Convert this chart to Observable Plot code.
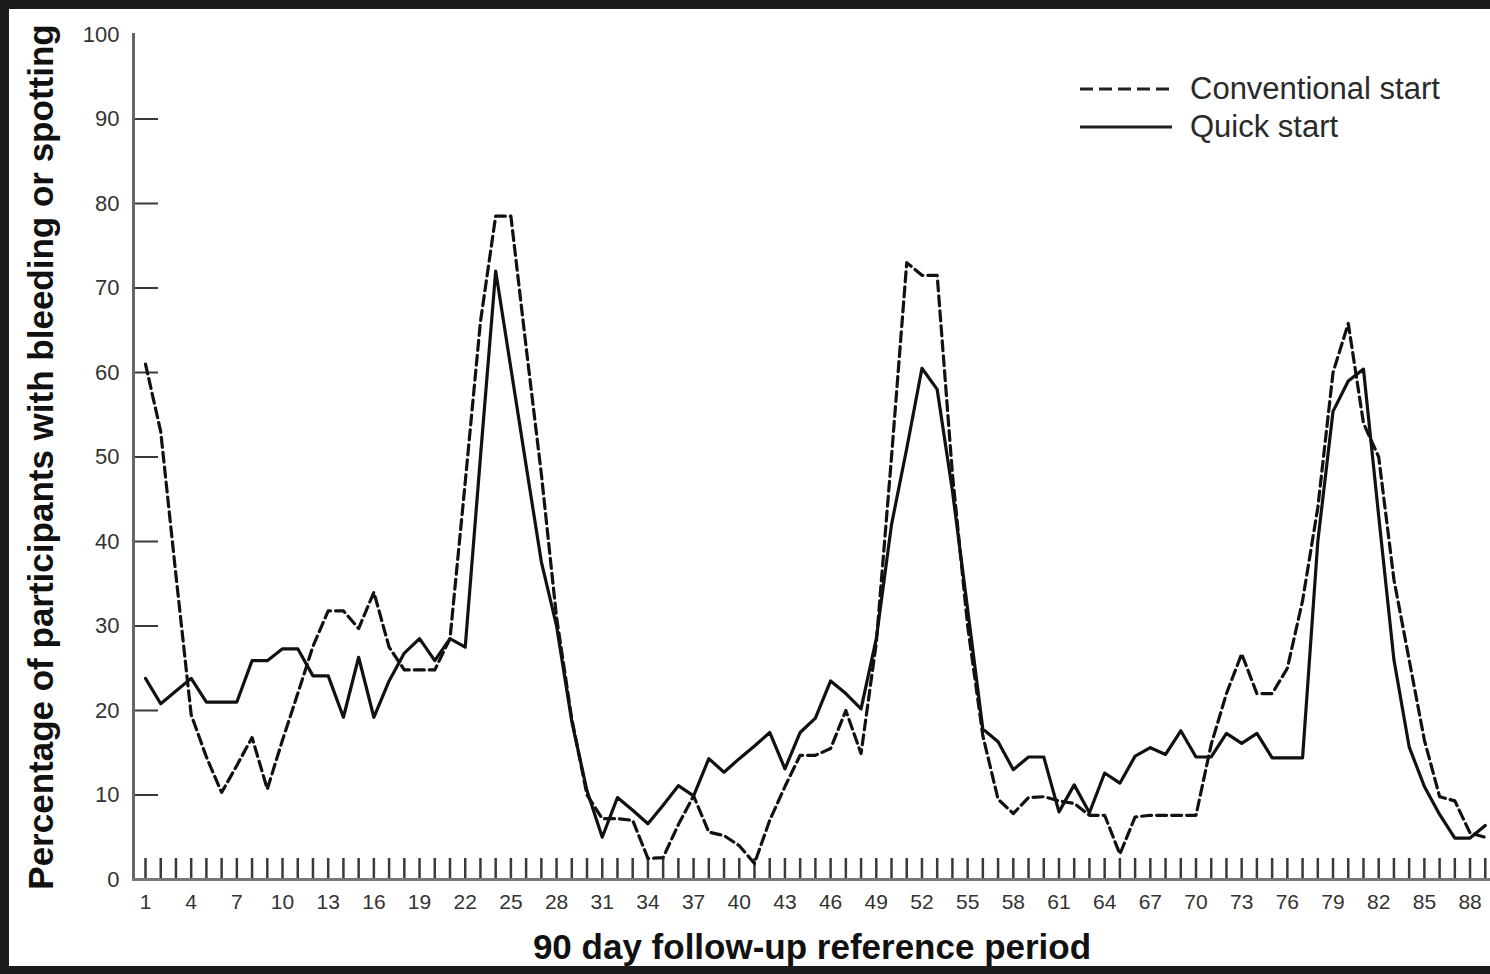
<!DOCTYPE html>
<html>
<head>
<meta charset="utf-8">
<script src="https://cdn.jsdelivr.net/npm/d3@7"></script>
<script src="https://cdn.jsdelivr.net/npm/@observablehq/plot@0.6"></script>
<style>
  html, body { margin: 0; padding: 0; width: 1490px; height: 974px; overflow: hidden; background: #1c1c1c; }
  #panel { position: absolute; left: 9px; top: 9px; width: 1481px; height: 957px; background: #ffffff; }
  #chart { position: absolute; left: 0; top: 0; }
  #legend { position: absolute; left: 1080px; top: 70px; font-family: "Liberation Sans", Arial, sans-serif; font-size: 31px; color: #2a2a2a; }
  .item { display: flex; align-items: center; height: 38px; }
  .item svg { width: 92px; height: 10px; margin-right: 18px; }
</style>
</head>
<body>
<div id="panel"></div>
<div id="chart"></div>
<div id="legend"></div>
<script>
// ---- data ----
const days = [1,2,3,4,5,6,7,8,9,10,11,12,13,14,15,16,17,18,19,20,21,22,23,24,25,26,27,28,29,30,
  31,32,33,34,35,36,37,38,39,40,41,42,43,44,45,46,47,48,49,50,51,52,53,54,55,56,57,58,59,60,
  61,62,63,64,65,66,67,68,69,70,71,72,73,74,75,76,77,78,79,80,81,82,83,84,85,86,87,88,89];

const conventionalStart = [61,53,36,19.5,14.5,10.3,13.5,16.8,10.7,16.5,22,27.6,31.8,31.8,29.7,34,27.5,24.8,24.8,24.8,
  28.5,47,66,78.5,78.5,63,48,31,19,10,
  7.2,7.2,7.0,2.5,2.6,6.5,9.9,5.6,5.2,4,1.9,7,11,14.7,14.7,15.5,20,14.9,28,50,
  73,71.5,71.5,48,30,17,9.5,7.8,9.7,9.8,9.3,9,7.6,7.6,3,7.4,7.6,7.6,7.6,7.6,
  16,22,26.7,22,22,25,33,44,60,65.8,54,50,35.5,26,16.5,9.8,9.3,5.5,5];

const quickStart = [23.8,20.8,22.3,23.8,21,21,21,25.9,25.9,27.3,27.3,24.1,24.1,19.2,26.3,19.2,23.5,26.8,28.5,25.9,
  28.5,27.5,50,72,60.5,49,37.6,30,18.7,10.5,
  5,9.7,8.2,6.6,8.8,11.1,9.9,14.3,12.7,14.3,15.8,17.4,13.1,17.4,19.1,23.5,22,20.2,28.5,42,
  51,60.5,58,46,32,17.8,16.3,13,14.5,14.5,8,11.2,7.9,12.6,11.4,14.6,15.6,14.8,17.6,14.5,
  14.5,17.3,16.1,17.3,14.4,14.4,14.4,40,55.4,59,60.4,43,26,15.7,11,7.7,4.9,4.9,6.4];

const seriesNames = ["Conventional start", "Quick start"];
const xTickLabels = [1,4,7,10,13,16,19,22,25,28,31,34,37,40,43,46,49,52,55,58,61,64,67,70,73,76,79,82,85,88];
const yTickLabels = [0,10,20,30,40,50,60,70,80,90,100];
const yInnerTicks = [10,20,30,40,50,60,70,80,90];
const xTitle = "90 day follow-up reference period";
const yTitle = "Percentage of participants with bleeding or spotting";

const convRows = days.map((d, i) => ({day: d, value: conventionalStart[i], series: seriesNames[0]}));
const quickRows = days.map((d, i) => ({day: d, value: quickStart[i], series: seriesNames[1]}));

const W = 1490, H = 974, ML = 133, MT = 34, MB = 95;

const chart = Plot.plot({
  width: W,
  height: H,
  marginLeft: ML,
  marginRight: 0,
  marginTop: MT,
  marginBottom: MB,
  style: {background: "transparent", fontFamily: "'Liberation Sans', Arial, sans-serif", color: "#2a2a2a", overflow: "visible"},
  x: {domain: [1, 90], range: [145, 1500]},
  y: {domain: [0, 100]},
  marks: [
    Plot.tickX(days, {x: d => d, insetTop: (H - MB - MT) - 21, stroke: "#3a3a3a", strokeWidth: 2.5}),
    Plot.tickY(yInnerTicks, {y: d => d, insetRight: (W - ML) - 25, stroke: "#3a3a3a", strokeWidth: 2}),
    Plot.frame({anchor: "left", stroke: "#666", strokeWidth: 3}),
    Plot.frame({anchor: "bottom", stroke: "#777", strokeWidth: 3}),
    Plot.axisX({ticks: xTickLabels, tickSize: 0, tickPadding: 15, fontSize: 21, fill: "#333", label: null}),
    Plot.axisX({ticks: [], tickSize: 0, label: xTitle, labelAnchor: "center", labelArrow: "none", labelOffset: 79, dx: -13, fontSize: 35, fontWeight: "bold", fill: "#111"}),
    Plot.axisY({ticks: yTickLabels, tickSize: 0, tickPadding: 14, fontSize: 22, fill: "#333", label: null}),
    Plot.axisY({ticks: [], tickSize: 0, label: yTitle, labelAnchor: "center", labelArrow: "none", labelOffset: 105, fontSize: 35, fontWeight: "bold", fill: "#111"}),
    Plot.line(convRows, {x: "day", y: "value", stroke: "#111", strokeWidth: 3.2, strokeDasharray: "10,5"}),
    Plot.line(quickRows, {x: "day", y: "value", stroke: "#111", strokeWidth: 3.2})
  ]
});
document.getElementById("chart").appendChild(chart);

// legend
const legend = document.getElementById("legend");
seriesNames.forEach((name, i) => {
  const item = document.createElement("div");
  item.className = "item";
  const dash = i === 0 ? 'stroke-dasharray="13,6"' : '';
  item.innerHTML = `<svg viewBox="0 0 92 10"><line x1="0" y1="5" x2="92" y2="5" stroke="#222" stroke-width="3" ${dash}/></svg><span>${name}</span>`;
  legend.appendChild(item);
});
</script>
</body>
</html>
